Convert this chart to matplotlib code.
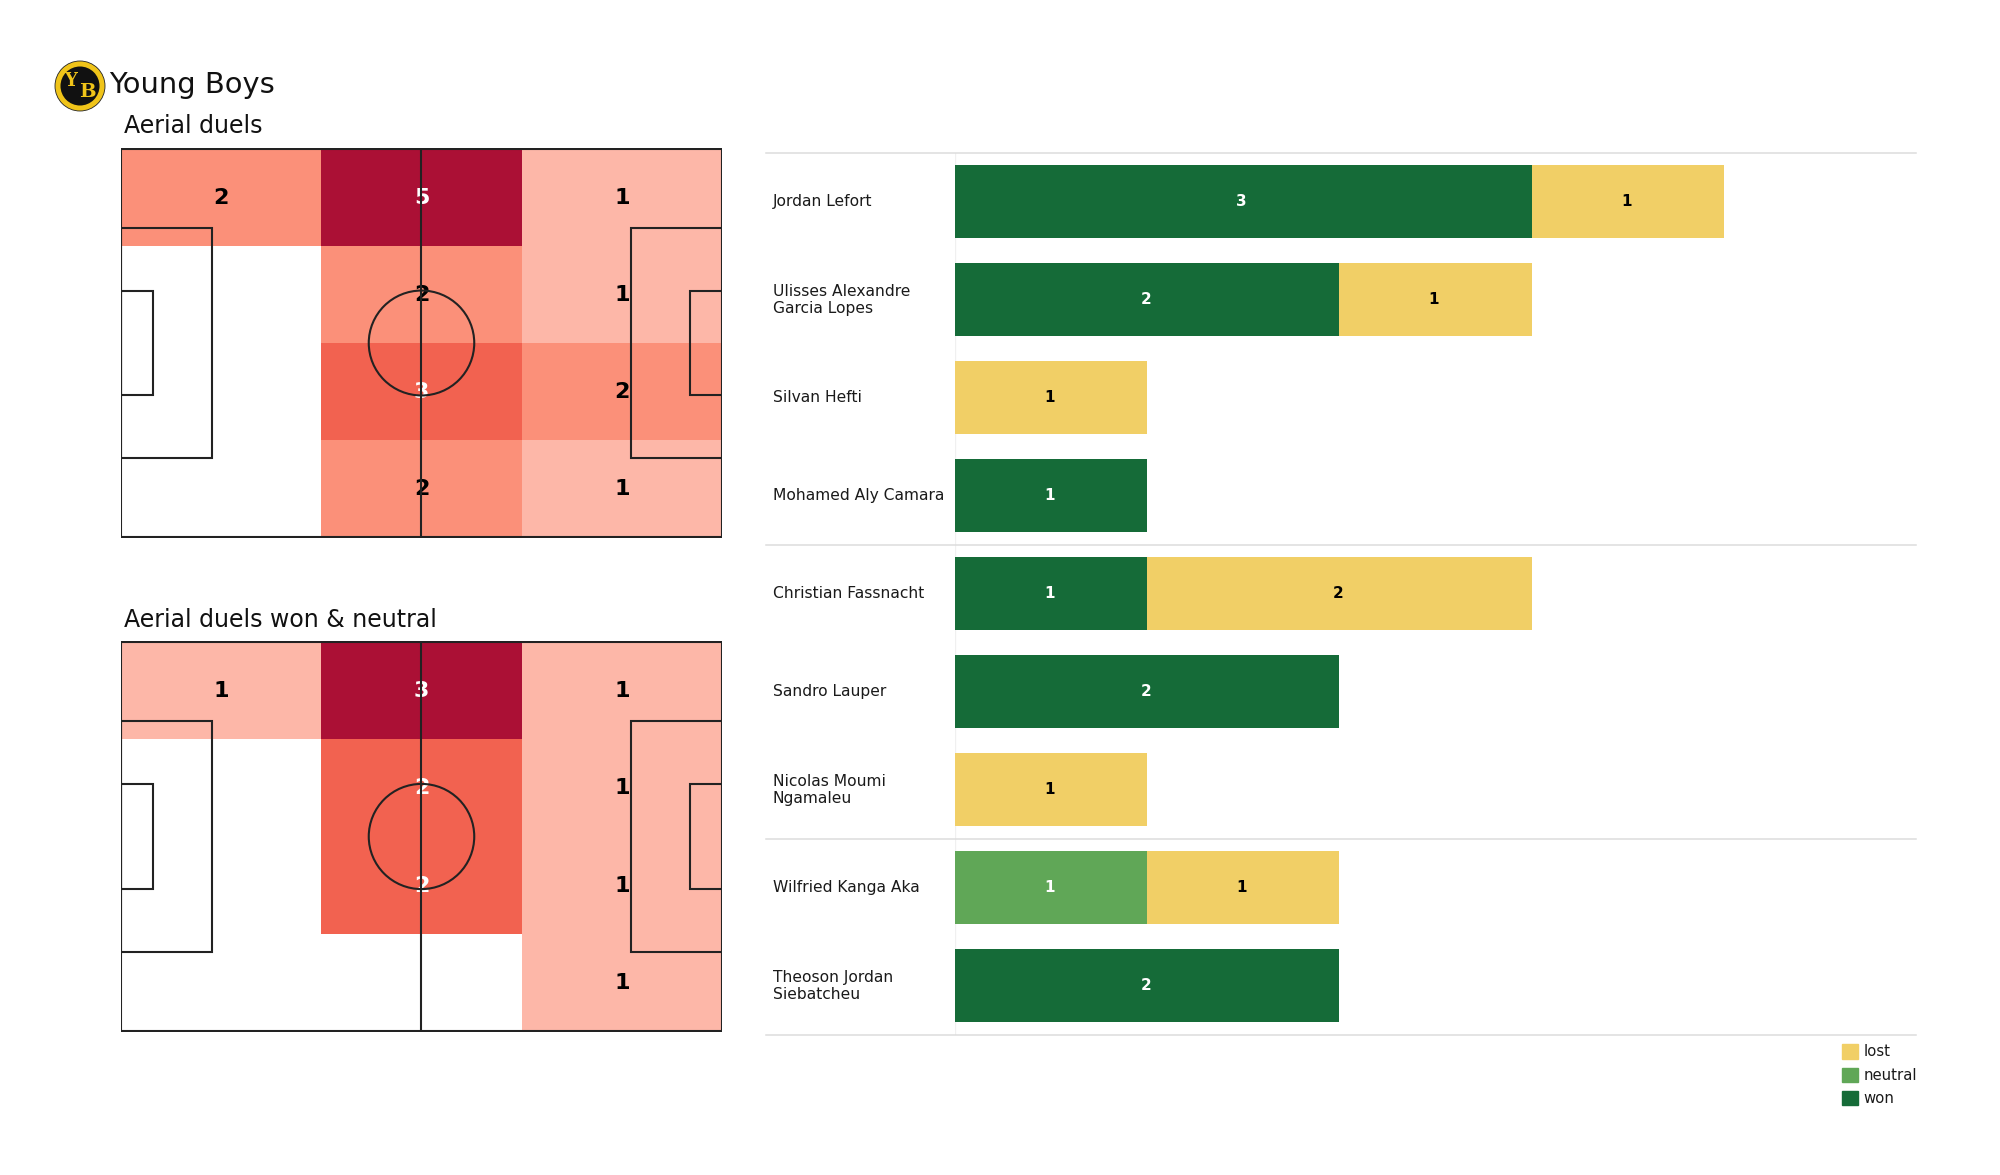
import numpy as np
import matplotlib
matplotlib.use("Agg")
import matplotlib.pyplot as plt
from matplotlib.patches import Circle, Rectangle
from matplotlib.colors import ListedColormap, BoundaryNorm

team = "Young Boys"
title_all = "Aerial duels"
title_won = "Aerial duels won & neutral"
# rows top-to-bottom, columns left-to-right
duels_all = [[2, 5, 1], [0, 2, 1], [0, 3, 2], [0, 2, 1]]
duels_won = [[1, 3, 1], [0, 2, 1], [0, 2, 1], [0, 0, 1]]
levels_all = [0, 1, 2, 3, 5]
colors_all = ["#ffffff", "#fdb7a8", "#fb9079", "#f26250", "#ab1035"]
levels_won = [0, 1, 2, 3]
colors_won = ["#ffffff", "#fdb7a8", "#f26250", "#ab1035"]
white_all = 3
white_won = 2

players = ["Jordan Lefort", "Ulisses Alexandre\nGarcia Lopes", "Silvan Hefti",
           "Mohamed Aly Camara", "Christian Fassnacht", "Sandro Lauper",
           "Nicolas Moumi\nNgamaleu", "Wilfried Kanga Aka",
           "Theoson Jordan\nSiebatcheu"]
won = [3, 2, 0, 1, 1, 2, 0, 0, 2]
neutral = [0, 0, 0, 0, 0, 0, 0, 1, 0]
lost = [1, 1, 1, 0, 2, 0, 1, 1, 0]
group_breaks = [4, 7]
C_WON, C_NEUTRAL, C_LOST = "#156b38", "#60a757", "#f1cf66"

W, H = 2000, 1175
fig = plt.figure(figsize=(W / 100, H / 100), dpi=100, facecolor="white")
plt.rcParams["font.family"] = "DejaVu Sans"


def axes_px(x0, y0, x1, y1, **kw):
    return fig.add_axes([x0 / W, 1 - y1 / H, (x1 - x0) / W, (y1 - y0) / H], **kw)


def pitch(ax, grid, levels, colors, white_from):
    grid = np.array(grid)
    cmap = ListedColormap(colors)
    bounds = [l - 0.5 for l in levels] + [levels[-1] + 0.5]
    norm = BoundaryNorm(bounds, cmap.N)
    xe = np.linspace(0, 105, 4)
    ye = np.linspace(68, 0, 5)
    ax.pcolormesh(xe, ye, grid, cmap=cmap, norm=norm, zorder=1)
    for r in range(4):
        for c in range(3):
            v = grid[r, c]
            if v:
                ax.text((xe[c] + xe[c + 1]) / 2, (ye[r] + ye[r + 1]) / 2 - 0.1, str(v),
                        ha="center", va="center", fontsize=16, fontweight="bold",
                        color="white" if v >= white_from else "black", zorder=2)
    lc = dict(color="#222222", lw=1.5, zorder=3, fill=False)
    ax.add_patch(Rectangle((0, 0), 105, 68, **lc))
    ax.plot([52.5, 52.5], [0, 68], color="#222222", lw=1.5, zorder=3)
    ax.add_patch(Rectangle((0, 13.84), 16, 40.32, **lc))
    ax.add_patch(Rectangle((89, 13.84), 16, 40.32, **lc))
    ax.add_patch(Rectangle((0, 24.84), 5.7, 18.32, **lc))
    ax.add_patch(Rectangle((99.3, 24.84), 5.7, 18.32, **lc))
    ax.add_patch(Circle((52.5, 34), 9.2, **lc))
    ax.set_xlim(0, 105)
    ax.set_ylim(-0.2, 68.2)
    ax.axis("off")


ax1 = axes_px(120.5, 148, 722.5, 538)
pitch(ax1, duels_all, levels_all, colors_all, white_all)
ax2 = axes_px(120.5, 641, 722.5, 1032)
pitch(ax2, duels_won, levels_won, colors_won, white_won)

fig.text(109 / W, 1 - 85 / H, team, fontsize=20.9, va="center", ha="left", color="#111111")
fig.text(124 / W, 1 - 126 / H, title_all, fontsize=17, va="center", ha="left", color="#111111")
fig.text(124 / W, 1 - 620 / H, title_won, fontsize=17, va="center", ha="left", color="#111111")

# logo
lg = axes_px(54, 60, 106, 112)
lg.set_xlim(0, 52); lg.set_ylim(52, 0); lg.axis("off")
lg.add_patch(Circle((26, 26), 25, fc="#f0c419", ec="#222222", lw=0.6))
lg.add_patch(Circle((26, 26), 19.5, fc="#111111", ec="none"))
lg.text(17, 21, "Y", color="#f0c419", fontsize=13, fontweight="bold", ha="center", va="center", family="DejaVu Serif")
lg.text(33, 32, "B", color="#f0c419", fontsize=14, fontweight="bold", ha="center", va="center", family="DejaVu Serif")

# bars
ax = axes_px(955, 152.5, 1916, 1034.5)
y = np.arange(len(players))
won_a, neu_a, lost_a = map(np.array, (won, neutral, lost))
bh = 0.75
for vals, left, col, tc in [(won_a, 0 * won_a, C_WON, "white"),
                            (neu_a, won_a, C_NEUTRAL, "white"),
                            (lost_a, won_a + neu_a, C_LOST, "black")]:
    ax.barh(y, vals, left=left, height=bh, color=col, linewidth=0, zorder=2)
    for i, (v, l) in enumerate(zip(vals, left)):
        if v:
            ax.text(l + v / 2 - 0.008, i, str(v), ha="center", va="center",
                    fontsize=11, fontweight="bold", color=tc, zorder=3)
ax.set_xlim(0, 5.0)
ax.set_ylim(len(players) - 0.5, -0.5)
ax.axis("off")
ax.plot([0, 0], [-0.5, len(players) - 0.5], color="#f0f0f0", lw=1, zorder=1)
for b in [0] + group_breaks + [len(players)]:
    ax.plot([-189 / 192, 5.0], [b - 0.5, b - 0.5], color="#dcdcdc", lw=1.1,
            clip_on=False, zorder=1)
for i, name in enumerate(players):
    ax.text(-182 / 192, i + 0.005, name, ha="left", va="center", fontsize=11.2,
            color="#1a1a1a", linespacing=1.2, clip_on=False)

handles = [Rectangle((0, 0), 1, 1, color=c) for c in (C_LOST, C_NEUTRAL, C_WON)]
ax.legend(handles, ["lost", "neutral", "won"], loc="upper right",
          bbox_to_anchor=(1.0055, -0.006), frameon=False, fontsize=10.7,
          handlelength=1.1, handleheight=1.1, handletextpad=0.35, labelspacing=0.55,
          borderpad=0.3, borderaxespad=0, labelcolor="#1a1a1a")
fig.savefig("out.png", dpi=100, facecolor="white")
